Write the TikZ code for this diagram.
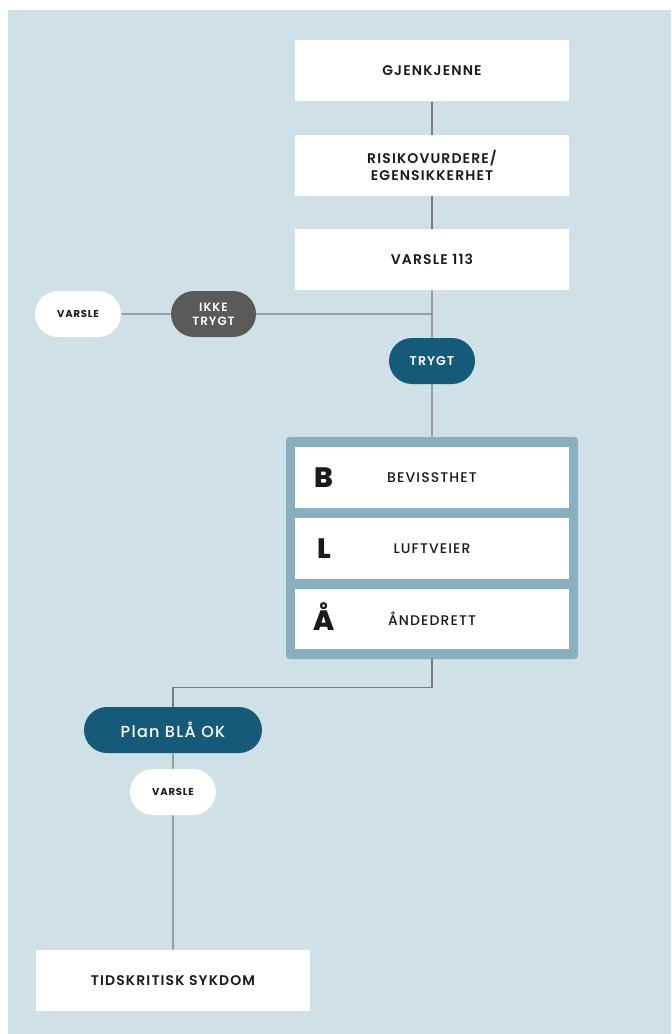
\documentclass[tikz,border=0pt]{standalone}
\usepackage{fontspec}
\setmainfont{Poppins}[UprightFont={* SemiBold}, BoldFont={* Bold}, LetterSpace=8.0]
\newfontfamily\heavyfont{Poppins}[UprightFont={* ExtraBold}]
\newfontfamily\lightfont{Poppins}[UprightFont={* Medium}, LetterSpace=8.0]
\usetikzlibrary{shapes.misc}

\definecolor{bgblue}{HTML}{CFE0E7}
\definecolor{darkblue}{HTML}{165A7A}
\definecolor{stonegray}{HTML}{5A5A58}
\definecolor{framegray}{HTML}{8AAFC0}
\definecolor{linegray}{HTML}{7A7A7A}
\definecolor{inkblack}{HTML}{1A1A1A}

\tikzset{
  stepbox/.style = {fill = white, minimum width = 205.5pt, minimum height = 45.75pt,
                    inner sep = 0pt, align = center, text = inkblack,
                    font = \fontsize{10.5}{13}\selectfont},
  blaabox/.style = {stepbox, font = \fontsize{10.5}{13}\lightfont},
  pill/.style = {rounded rectangle, minimum height = 34.5pt, inner sep = 0pt,
                 align = center, font = \fontsize{9}{10.5}\selectfont},
  whitepill/.style = {pill, fill = white, text = inkblack, minimum width = 64.5pt,
                      font = \fontsize{7.5}{9}\bfseries},
  bluepill/.style = {pill, fill = darkblue, text = white, minimum width = 64.5pt,
                     font = \fontsize{9.5}{11}\selectfont},
  letter/.style = {text = inkblack, font = \fontsize{21}{24}\heavyfont},
  wire/.style = {draw = linegray, line width = 0.9pt}
}

\begin{document}
\begin{tikzpicture}[x = 0.75pt, y = -0.75pt]
  \useasboundingbox (0, 0) rectangle (671, 1034);
  \fill [white] (0, 0) rectangle (671, 1034);
  \fill [bgblue] (8, 10) rectangle (671, 1034);

  % top chain
  \node [stepbox] (gjenkjenne) at (432, 71) {GJENKJENNE};
  \node [stepbox] (risiko) at (432, 165.5) {RISIKOVURDERE/\\EGENSIKKERHET};
  \node [stepbox] (varsle113) at (432, 259.5) {VARSLE 113};

  \coordinate (split) at (432, 314);
  \node [whitepill] (varsleleft) at (78, 314) {VARSLE};
  \node [pill, fill = stonegray, text = white, minimum width = 63.75pt]
        (ikketrygt) at (213.5, 314) {IKKE\\TRYGT};
  \node [bluepill] (trygt) at (432, 361) {TRYGT};

  % BLÅ frame
  \node [fill = framegray, rounded corners = 3pt, minimum width = 219pt,
         minimum height = 166.5pt, inner sep = 0pt] (blaa) at (432, 548) {};
  \node [blaabox] (bevissthet) at (432, 477.5) {BEVISSTHET};
  \node [blaabox] (luftveier) at (432, 548.5) {LUFTVEIER};
  \node [blaabox, minimum height = 45pt] (andedrett) at (432, 619) {ÅNDEDRETT};
  \node [letter] at (324, 478) {B};
  \node [letter] at (324, 549) {L};
  \node [letter] at (324, 617) {Å};

  % bottom chain
  \node [bluepill, minimum width = 133.5pt, font = \fontsize{12}{14}\lightfont]
        (planok) at (173, 730) {Plan BLÅ OK};
  \node [whitepill] (varslebottom) at (173, 792) {VARSLE};
  \node [stepbox] (tidskritisk) at (173, 980.5) {TIDSKRITISK SYKDOM};

  \draw [wire] (gjenkjenne) -- (risiko);
  \draw [wire] (risiko) -- (varsle113);
  \draw [wire] (varsle113) -- (trygt);
  \draw [wire] (ikketrygt) -- (split);
  \draw [wire] (varsleleft) -- (ikketrygt);
  \draw [wire] (trygt) -- (blaa);
  \draw [wire] (blaa.south) -- ++(0, 28) -| (planok.north);
  \draw [wire] (planok) -- (varslebottom);
  \draw [wire] (varslebottom) -- (tidskritisk);
\end{tikzpicture}
\end{document}
